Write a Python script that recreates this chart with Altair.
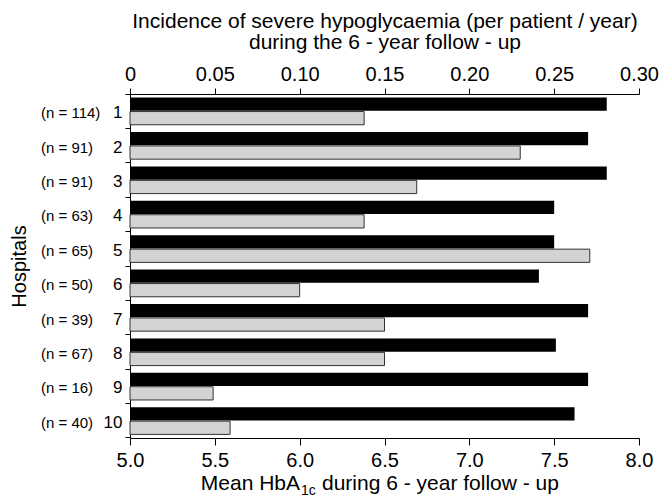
import altair as alt
import pandas as pd

# ---- data ----
hospitals = ["1", "2", "3", "4", "5", "6", "7", "8", "9", "10"]
n_patients = [114, 91, 91, 63, 65, 50, 39, 67, 16, 40]
mean_hba1c = [7.81, 7.70, 7.81, 7.50, 7.50, 7.41, 7.70, 7.51, 7.70, 7.62]
hypo_incidence = [0.138, 0.230, 0.169, 0.138, 0.271, 0.100, 0.150, 0.150, 0.049, 0.059]
hba1c_ticks = [5.0, 5.5, 6.0, 6.5, 7.0, 7.5, 8.0]
hypo_ticks = [0, 0.05, 0.10, 0.15, 0.20, 0.25, 0.30]
top_title = ["Incidence of severe hypoglycaemia (per patient / year)",
             "during the 6 - year follow - up"]
bottom_title_parts = ["Mean HbA", "1c", "during 6 - year follow - up"]

df = pd.DataFrame({
    "hospital": hospitals,
    "n": n_patients,
    "hba1c": mean_hba1c,
    "hypo": hypo_incidence,
})
df["nlabel"] = ["(n = %d)" % v for v in n_patients]

FONT = "Liberation Sans"
W, H = 509, 344

y_enc = alt.Y(
    "hospital:N", sort=hospitals,
    scale=alt.Scale(paddingInner=0, paddingOuter=0),
    axis=alt.Axis(
        title="Hospitals", bandPosition=1, tickExtra=True, tickSize=5,
        labelPadding=3, labelFontSize=17, labelColor="black", labelAngle=0,
        labelOffset=2,
        domainColor="black", tickColor="black", grid=False,
        titleFontSize=20, titleFontWeight="normal", titleColor="black",
        titleX=-111, titleY=H / 2, titleAngle=270, titleAlign="center",
        titleBaseline="middle",
    ),
)
yoff_scale = alt.Scale(domain=["a", "b"], paddingInner=0.05, paddingOuter=0.26)

base = alt.Chart(df)

black = base.transform_calculate(series="'a'", x0="5").mark_bar(
    color="black"
).encode(
    x=alt.X("hba1c:Q",
            scale=alt.Scale(domain=[5, 8], zero=False, nice=False),
            axis=alt.Axis(orient="bottom", values=hba1c_ticks, format=".1f",
                          title=None, tickSize=7, labelPadding=5,
                          labelFlush=False,
                          labelFontSize=20, labelColor="black",
                          domainColor="black", tickColor="black", grid=False)),
    x2="x0:Q",
    y=y_enc,
    yOffset=alt.YOffset("series:N", scale=yoff_scale),
)

grey = base.transform_calculate(series="'b'").mark_bar(
    color="#d3d3d5", stroke="#333333", strokeWidth=1
).encode(
    x=alt.X("hypo:Q",
            scale=alt.Scale(domain=[0, 0.3], nice=False),
            axis=alt.Axis(orient="top", values=hypo_ticks,
                          labelExpr="datum.value == 0 ? '0' : format(datum.value, '.2f')",
                          labelFlush=False,
                          title=top_title, titleFontSize=21,
                          titleFontWeight="normal", titleColor="black",
                          titleLineHeight=21, titlePadding=12,
                          tickSize=6, labelPadding=4, labelFontSize=20,
                          labelColor="black", domainColor="black",
                          tickColor="black", grid=False)),
    y=y_enc,
    yOffset=alt.YOffset("series:N", scale=yoff_scale),
)

nlabels = base.mark_text(
    align="left", baseline="middle", fontSize=15, font=FONT, color="black", dy=2
).encode(
    x=alt.value(-89),
    y=y_enc,
    text="nlabel:N",
)

one = pd.DataFrame({"k": [0]})
bt1 = alt.Chart(one).mark_text(align="right", baseline="alphabetic", fontSize=21,
                               font=FONT, color="black").encode(
    x=alt.value(170), y=alt.value(396), text=alt.value(bottom_title_parts[0]))
bt2 = alt.Chart(one).mark_text(align="left", baseline="alphabetic", fontSize=14,
                               font=FONT, color="black").encode(
    x=alt.value(171), y=alt.value(401), text=alt.value(bottom_title_parts[1]))
bt3 = alt.Chart(one).mark_text(align="left", baseline="alphabetic", fontSize=21,
                               font=FONT, color="black").encode(
    x=alt.value(192), y=alt.value(396), text=alt.value(bottom_title_parts[2]))

chart = alt.layer(black, grey, nlabels, bt1, bt2, bt3).resolve_scale(
    x="independent"
).resolve_axis(
    x="independent"
).properties(
    width=W, height=H, autosize="none",
    padding={"left": 130, "top": 94, "right": 21, "bottom": 59},
    background="white",
).configure(font=FONT).configure_view(stroke=None)

chart.save("out.html", embed_options={"renderer": "svg", "actions": False})
